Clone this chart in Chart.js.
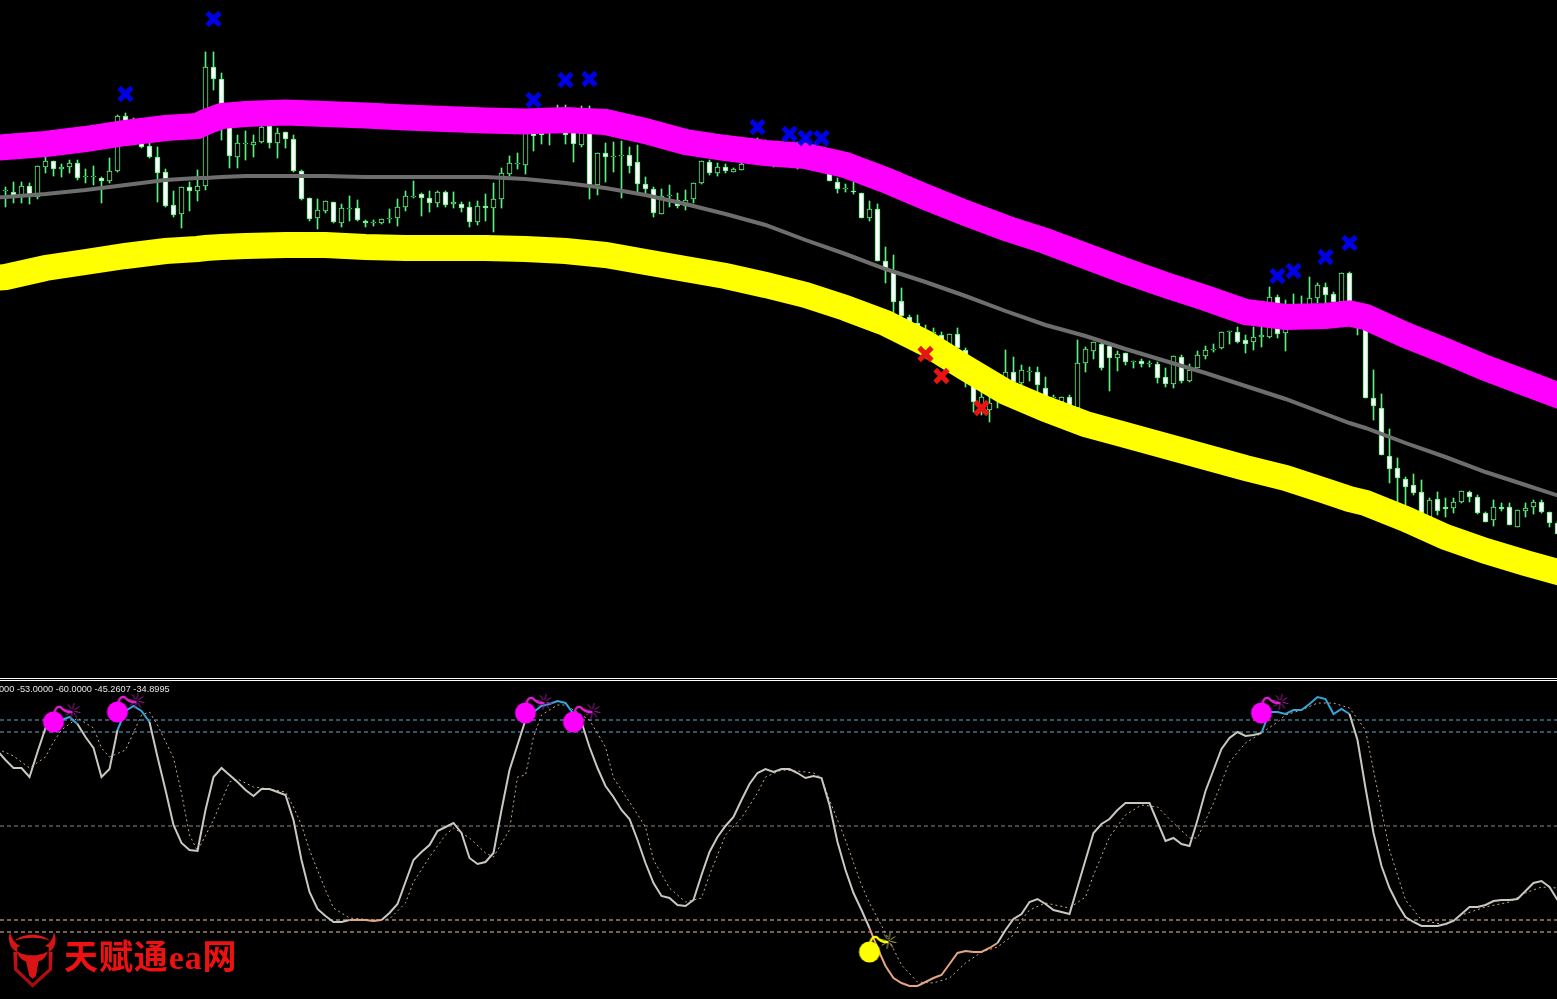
<!DOCTYPE html>
<html lang="zh">
<head>
<meta charset="UTF-8" />
<title>天赋通ea网</title>
<script src="https://cdn.jsdelivr.net/npm/chart.js"></script>
<style>
  html, body { margin: 0; padding: 0; background: #000; width: 1557px; height: 999px; overflow: hidden; }
  canvas { position: absolute; display: block; }
  /* Chart.js insets the plot by half the widest line, so the canvases stick out by that much */
  #priceChart { left: -14px; top: -14px; }
  #oscChart { left: -1px; top: 680px; }
  .sep { position: absolute; left: 0; width: 1557px; height: 1px; background: #fff; }
  #oscLabel {
    position: absolute; left: -1px; top: 684px; color: #e6e6e6; white-space: nowrap;
    font: 9.2px "Liberation Sans", sans-serif;
  }
  #logoIcon { position: absolute; left: 0; top: 920px; }
  #logoText {
    position: absolute; left: 64px; top: 935px; color: #ee1111; white-space: nowrap;
    letter-spacing: 0.9px;
    font: bold 34px/46px "Liberation Serif", "Noto Sans CJK SC", serif;
  }
</style>
</head>
<body>
<canvas id="priceChart" width="1585" height="706"></canvas>
<div class="sep" style="top:678px"></div>
<div class="sep" style="top:680px"></div>
<canvas id="oscChart" width="1559" height="320"></canvas>
<div id="oscLabel">000 -53.0000 -60.0000 -45.2607 -34.8995</div>
<svg id="logoIcon" width="60" height="70" viewBox="0 0 180 210">
  <defs>
    <linearGradient id="logoRed" x1="0" y1="0" x2="0" y2="1">
      <stop offset="0" stop-color="#e01818"/><stop offset="1" stop-color="#a00c0c"/>
    </linearGradient>
  </defs>
  <path fill="url(#logoRed)" d="M30 36 C22 62 30 84 50 96 L40 96 L42 150 L98 203 L156 150 L158 96 L148 96 C166 84 172 62 162 36 C158 60 150 70 134 78 L146 82 L146 146 L98 190 L52 146 L52 82 L62 78 C44 70 36 58 30 36 Z"/>
  <path fill="#e01818" d="M44 62 C70 38 124 38 150 62 C122 50 72 50 44 62 Z"/>
  <path fill="#d81414" d="M50 94 C66 104 74 102 82 106 L112 106 C120 102 130 104 144 94 C138 112 128 122 116 124 L108 168 L98 176 L88 168 L78 124 C66 122 56 112 50 94 Z"/>
</svg>
<div id="logoText">天赋通ea网</div>

<script>
  // candles, one entry per bar (points)
  const opens = [
    487,486,481,492,481,511,517,509,511,515,501,501,500,497,507,562,558,548,532,521,
    506,473,464,491,487,492,611,599,553,521,534,533,536,552,535,546,539,507,480,460,
    467,476,455,469,470,457,455,455,459,460,471,481,484,480,475,486,474,474,471,456,
    472,470,479,504,514,513,553,553,550,560,560,555,533,560,493,525,521,522,523,516,
    494,489,464,482,478,472,479,495,516,505,511,506,508,523,535,526,531,523,531,523,
    531,528,526,513,496,489,487,485,460,469,417,406,377,361,355,348,333,343,333,344,
    328,306,268,268,278,299,306,295,306,306,290,280,276,281,270,315,327,334,332,320,
    325,316,317,314,314,301,294,321,297,310,322,328,330,346,346,338,336,341,341,381,
    345,358,373,363,380,391,384,376,405,370,353,280,270,222,210,199,193,186,161,179,
    171,170,176,186,181,165,158,171,171,151,167,171,176,166,155
  ];
  const highs = [
    491,496,496,495,512,522,517,514,518,518,509,512,501,520,563,565,560,550,537,531,
    509,487,491,496,508,626,626,605,555,543,547,543,553,553,550,546,543,508,480,479,
    477,476,474,482,478,458,458,459,469,479,487,497,485,487,487,487,486,476,476,477,
    484,495,510,522,525,548,560,558,563,573,573,558,572,572,525,535,536,537,531,533,
    501,491,489,493,485,488,495,517,518,515,514,510,523,538,540,538,536,535,535,536,
    535,532,530,518,500,494,496,485,477,474,431,423,390,363,363,353,350,346,344,350,
    330,308,286,281,298,328,321,313,311,311,301,283,281,283,338,331,336,336,334,327,
    325,317,319,317,316,310,322,323,314,327,332,334,346,347,351,343,351,351,391,383,
    378,384,382,401,395,395,386,405,406,373,358,308,284,249,220,201,204,198,180,186,
    180,180,187,187,183,166,178,175,175,168,175,178,178,166,157
  ];
  const lows = [
    471,475,475,474,479,505,502,501,505,498,495,493,475,495,506,548,541,530,520,476,
    471,461,450,467,477,488,588,538,510,510,518,521,535,530,520,530,506,478,457,449,
    465,455,451,457,457,451,452,454,455,452,467,480,462,466,471,471,470,466,451,453,
    457,446,470,502,509,504,527,534,533,548,534,516,531,479,483,496,506,480,505,485,
    485,461,464,471,470,468,475,494,503,502,505,506,508,518,520,518,511,516,516,509,
    515,513,510,497,485,486,484,460,457,417,395,364,360,348,338,333,330,328,328,328,
    291,266,263,256,270,294,290,288,297,286,280,273,268,271,268,306,319,308,287,307,
    313,310,311,311,295,291,290,295,296,310,319,326,329,334,335,325,328,331,340,340,
    327,353,350,358,375,375,373,376,363,343,280,258,223,195,176,173,183,163,161,163,
    161,165,175,176,164,156,152,167,153,151,161,164,165,151,144
  ];
  const closes = [
    488,481,492,481,512,517,509,511,515,500,502,502,497,507,562,550,543,531,521,505,
    472,463,491,487,492,611,599,553,522,535,535,536,551,535,545,539,507,479,459,468,
    477,456,470,470,458,455,456,459,460,471,482,482,480,475,486,473,476,470,456,472,
    470,479,505,515,515,545,542,543,558,553,543,534,545,493,525,521,522,523,512,494,
    489,465,482,483,472,478,495,517,505,511,507,509,514,533,528,533,523,530,523,532,
    520,518,513,497,489,490,486,460,469,417,408,376,362,353,343,338,346,333,344,330,
    306,276,281,275,293,306,296,308,307,293,281,281,281,271,315,329,336,310,320,324,
    316,317,314,315,300,294,322,297,308,323,328,329,346,347,336,334,341,343,381,344,
    373,368,358,380,393,383,376,405,366,350,280,272,223,209,200,191,185,165,178,167,
    169,176,187,181,165,156,171,169,153,168,170,176,166,155,144
  ];

  const maBars = [-5,0,5,10,15,20,24,25,27,30,35,40,45,50,55,60,65,70,75,80,85,90,95,100,105,110,115,120,125,130,135,140,145,150,155,160,165,168,170,175,180,185,190,195];
  const upperBand = [528,531,534,539,545,550,552,556,562,564,565.5,564,562.5,560.5,559,557.5,556.5,558,556,547,536,530,525,522,513,498,481,465,450,437,422,407,393,380,366,361,362,364.5,361,343,327,310,295,280];
  const lowerBand = [398,401,410,416,422,427,429,430,431,432,433,433,431,430,430,430,429,427,423,416,409,402,393,383,370,355,335,310,286,269,254,243,232,221,210,200,187,179,175,159,141,127,115,104];
  const middleLine = [479,481,484,488,493,498,500,500,501,502,502,502,501,501,501,501,499,495,490,483,474,464,453,438,424,409,396,382,367,353,342,329,317,305,292,279,264,255,250,235,221,206,193,180];

  // arrows on the price panel
  const blueCrossBars = [15,26,66,70,73,94,98,100,102,159,161,165,168];
  const blueCrossVals = [584,659,578,598,599,551,544,540,540,402,407,421,435];
  const redCrossBars = [115,117,122];
  const redCrossVals = [324,302,270];

  // oscillator main line, bars -1 .. 194
  const oscMain = [
    75,66,58,58,49,74,98,102,106,109,102,89,78,49,57,96,115,120,115,104,
    69,36,1,-17,-24,-25,16,49,58,51,44,36,30,37,37,34,31,6,-34,-66,
    -83,-90,-96,-96,-94,-94,-94,-95,-94,-87,-78,-56,-34,-26,-19,-5,-1,3,-7,-32,
    -38,-36,-27,16,56,81,106,114,120,122,125,123,112,104,79,58,40,29,16,7,
    -14,-37,-57,-70,-72,-79,-80,-74,-49,-26,-11,0,9,26,42,53,57,54,57,57,
    53,48,50,48,21,-16,-44,-67,-84,-102,-122,-140,-152,-157,-160,-160,-156,-152,-149,-138,
    -127,-125,-126,-126,-122,-117,-104,-93,-88,-76,-73,-78,-84,-86,-88,-61,-34,-7,2,7,
    16,23,23,23,23,4,-15,-12,-18,-20,6,35,56,77,88,94,90,91,93,114,
    114,112,116,116,122,129,127,112,117,112,86,38,-7,-40,-62,-78,-91,-96,-100,-100,
    -100,-98,-95,-88,-81,-81,-79,-75,-74,-74,-73,-65,-57,-55,-61,-74
  ];

  // oscillator signal line
  const signalBars = [-1,1,3,5,6,7,9,11,12,13,15,17,18,19,21,22,23,24,26,28,29,31,33,35,36,37,38,40,41,43,46,48,50,51,53,55,56,58,60,61,63,64,65,66,67,69,70,73,75,76,78,80,81,83,85,87,88,90,92,94,95,97,99,101,102,103,105,107,108,110,112,114,116,118,120,122,124,126,127,128,130,133,135,136,138,140,142,144,146,148,149,151,153,155,157,159,160,162,164,166,168,170,171,172,173,175,177,180,182,185,188,190,192,194];
  const signalVals = [77,70,58,69,84,96,108,98,78,69,76,111,114,101,68,33,-9,-25,6,44,47,39,37,34,19,1,-24,-64,-82,-92,-94,-93,-77,-56,-31,-9,-2,-12,-27,-31,-4,49,51,89,111,121,121,106,79,48,24,-1,-34,-62,-76,-72,-49,-9,8,33,49,56,55,53,48,26,-14,-59,-77,-107,-139,-156,-157,-152,-137,-126,-121,-109,-94,-84,-77,-82,-71,-49,-11,11,21,19,3,-12,-12,23,64,83,93,104,111,116,123,123,118,96,56,16,-24,-74,-94,-99,-89,-81,-76,-67,-61,-62];

  const oscLevels = [106, 94, 0, -94, -106];
  const oscLevelColors = ['#6aa8c8', '#6aa8c8', '#8f857a', '#e0c4ae', '#e0c4ae'];

  // parts of the main line that change colour: [first bar, last bar]
  const overboughtBars = [[6, 9], [14, 18], [65, 71], [157, 168]];
  const oversoldBars = [[43, 47], [108, 124]];

  const bombBars = [6, 14, 65, 71, 157];
  const bombVals = [104, 114, 113, 104, 113];
  const bomb2Bars = [108];
  const bomb2Vals = [-126];

  // 8 px per bar; the half pixel keeps the 1 px wicks crisp
  const firstBar = -0.6875;
  const lastBar = 193.9375;
  const candleGreen = '#5cf07c';

  function hiddenAxes(yMin, yMax) {
    return {
      x: { type: 'linear', display: false, min: firstBar, max: lastBar, offset: false },
      y: { type: 'linear', display: false, min: yMin, max: yMax }
    };
  }

  function commonOptions(yMin, yMax) {
    return {
      responsive: false,
      animation: false,
      events: [],
      layout: { padding: 0 },
      elements: { point: { radius: 0 }, line: { tension: 0 } },
      plugins: { legend: { display: false }, tooltip: { enabled: false } },
      scales: hiddenAxes(yMin, yMax)
    };
  }

  function pairs(bars, vals) {
    return bars.map((b, i) => ({ x: b, y: vals[i] }));
  }

  function crossSet(bars, vals, color) {
    return {
      type: 'line', showLine: false, order: 0, data: pairs(bars, vals), borderWidth: 0,
      pointStyle: 'crossRot', pointRadius: 9, pointBorderWidth: 5,
      pointBorderColor: color, pointBackgroundColor: color
    };
  }

  function lineSet(bars, vals, color, width, order) {
    return { type: 'line', order: order, data: pairs(bars, vals), borderColor: color, borderWidth: width, pointRadius: 0 };
  }

  function renderPriceChart() {
    const wicks = lows.map((l, i) => ({ x: i, y: [l, highs[i]] }));
    const bodies = opens.map((o, i) => ({ x: i, y: [o, closes[i]] }));
    const fills = opens.map((o, i) => (closes[i] < o ? '#ffffff' : '#000000'));

    new Chart(document.getElementById('priceChart'), {
      type: 'bar',
      data: {
        datasets: [
          { order: 6, grouped: false, data: wicks, barThickness: 1, backgroundColor: candleGreen, borderWidth: 0 },
          { order: 5, grouped: false, data: bodies, barThickness: 5, backgroundColor: fills, borderColor: candleGreen, borderWidth: 1, borderSkipped: false },
          lineSet(maBars, middleLine, '#6e6e6e', 4, 3),
          lineSet(maBars, upperBand, '#ff00ff', 26, 2),
          lineSet(maBars, lowerBand, '#ffff00', 26, 2),
          crossSet(blueCrossBars, blueCrossVals, '#0000e6'),
          crossSet(redCrossBars, redCrossVals, '#e81414')
        ]
      },
      options: commonOptions(0, 678)
    });
  }

  // the bomb arrow, body in the middle of its little canvas
  function makeBomb(bodyColor, fuseColor, sparkColor) {
    const c = document.createElement('canvas');
    c.width = 64;
    c.height = 64;
    const g = c.getContext('2d');
    g.translate(32, 32);
    g.strokeStyle = sparkColor;
    g.lineWidth = 1;
    for (let a = 0; a < 8; a++) {
      const t = a * Math.PI / 4 + 0.2;
      g.beginPath();
      g.moveTo(19 + Math.cos(t) * 2, -11 + Math.sin(t) * 2);
      g.lineTo(19 + Math.cos(t) * 8, -11 + Math.sin(t) * 8);
      g.stroke();
    }
    g.strokeStyle = fuseColor;
    g.lineWidth = 2.4;
    g.beginPath();
    g.moveTo(1, -9);
    g.quadraticCurveTo(2, -16, 7, -15);
    g.quadraticCurveTo(12, -9, 19, -10);
    g.stroke();
    g.fillStyle = bodyColor;
    g.beginPath();
    g.arc(0, 0, 10.5, 0, Math.PI * 2);
    g.fill();
    return c;
  }

  function bombSet(bars, vals, img) {
    return {
      type: 'line', showLine: false, order: 0, data: pairs(bars, vals), borderWidth: 0,
      pointStyle: img, pointRadius: 1, pointHoverRadius: 1, pointBorderWidth: 0
    };
  }

  function inRanges(ranges, a, b) {
    return ranges.some(r => a >= r[0] && b <= r[1]);
  }

  function renderOscChart() {
    const levelSets = oscLevels.map((lv, i) => ({
      type: 'line', order: 5, data: [{ x: firstBar, y: lv }, { x: lastBar, y: lv }],
      borderColor: oscLevelColors[i], borderWidth: 1, borderDash: [4, 3], pointRadius: 0
    }));
    const mainData = oscMain.map((v, i) => ({ x: i - 1, y: v }));

    new Chart(document.getElementById('oscChart'), {
      type: 'line',
      data: {
        datasets: levelSets.concat([
          { order: 3, data: pairs(signalBars, signalVals), borderColor: '#c9a98e', borderWidth: 1, borderDash: [2, 3], pointRadius: 0 },
          {
            order: 2, data: mainData, borderColor: '#c9c9c2', borderWidth: 2, pointRadius: 0,
            segment: {
              borderColor: ctx => {
                const a = ctx.p0.parsed.x, b = ctx.p1.parsed.x;
                if (inRanges(overboughtBars, a, b)) return '#35a6dc';
                if (inRanges(oversoldBars, a, b)) return '#e6a582';
                return undefined;
              }
            }
          },
          bombSet(bombBars, bombVals, makeBomb('#ff00ff', '#e020d0', '#a0209a')),
          bombSet(bomb2Bars, bomb2Vals, makeBomb('#ffff00', '#ffff00', '#b0b060'))
        ])
      },
      options: commonOptions(-173, 145)
    });
  }

  renderPriceChart();
  renderOscChart();
</script>
</body>
</html>
